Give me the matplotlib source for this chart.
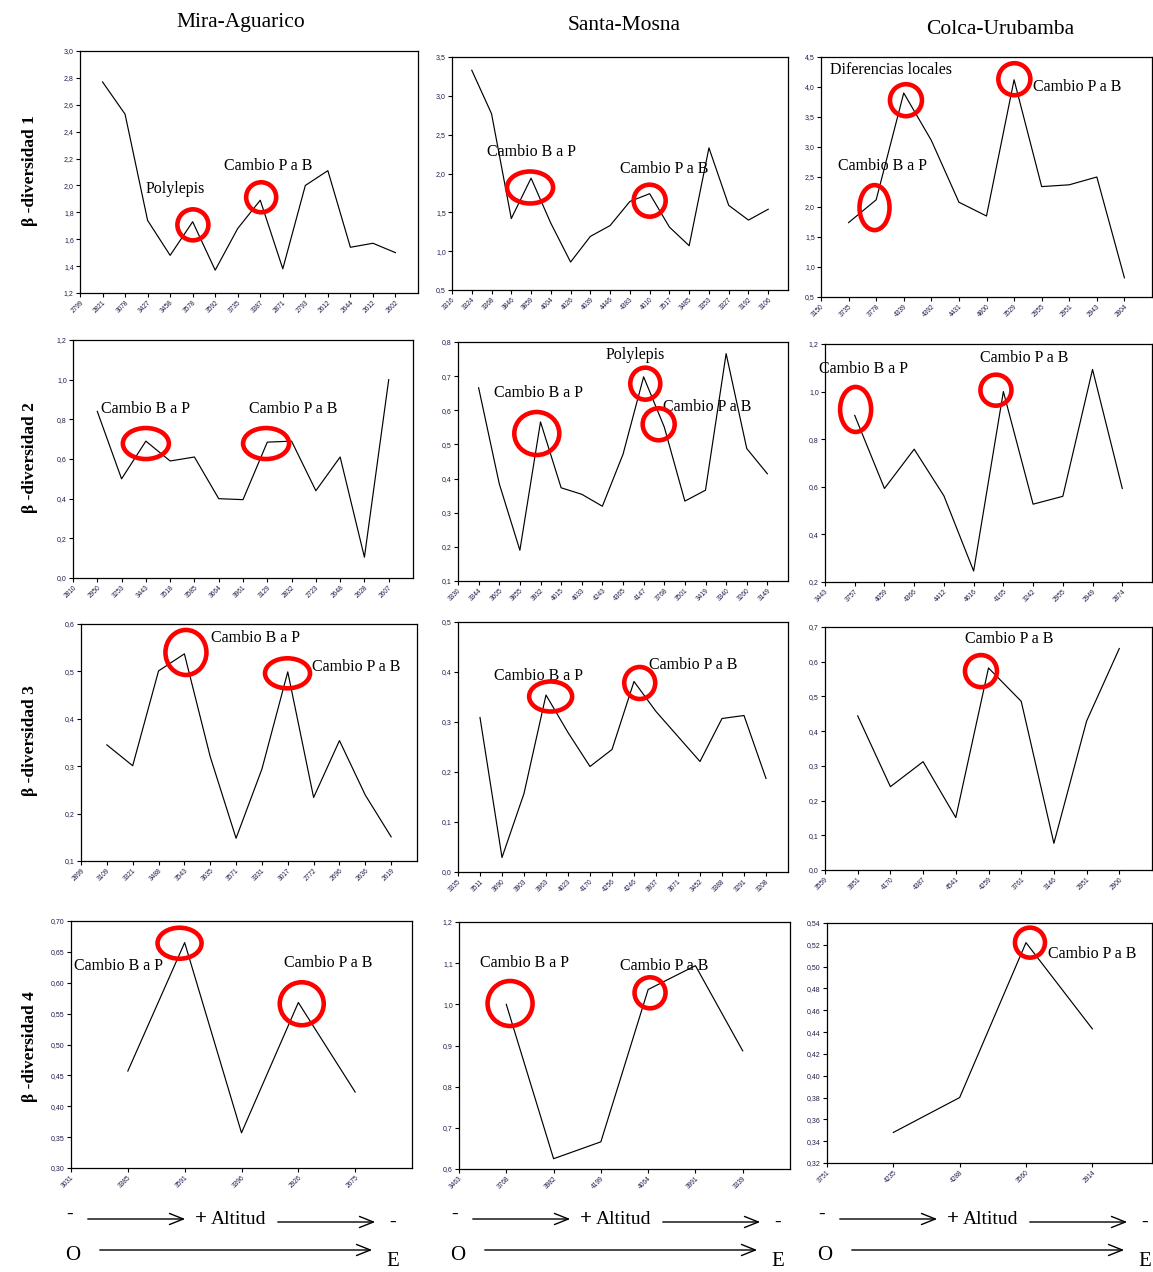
import numpy as np
import matplotlib
matplotlib.use("Agg")
import matplotlib.pyplot as plt
from matplotlib.patches import Ellipse
from matplotlib.ticker import FuncFormatter
import matplotlib.transforms as mtransforms

SERIF = "Liberation Serif"
TICK_COLOR = "#1c1c4a"

# ---- data: x labels (first label sits on the y axis, no point) and values
mira1_labels = ["2799", "2821", "3078", "3427", "3458", "3578", "3592", "3735",
                "3387", "2871", "2793", "2612", "2644", "2612", "2602"]
mira1_vals = [2.77, 2.53, 1.74, 1.48, 1.73, 1.37, 1.68, 1.89, 1.38, 2.00,
              2.11, 1.54, 1.57, 1.50]

santa1_labels = ["3316", "3324", "3368", "3846", "3859", "4004", "4026", "4039",
                 "4446", "4383", "4010", "3517", "3485", "3353", "3327", "3192",
                 "3106"]
santa1_vals = [3.33, 2.77, 1.42, 1.94, 1.36, 0.86, 1.19, 1.33, 1.64, 1.74,
               1.31, 1.07, 2.33, 1.59, 1.40, 1.54]

colca1_labels = ["3150", "3735", "3778", "4339", "4392", "4431", "4800", "3529",
                 "2955", "2951", "2943", "2804"]
colca1_vals = [1.74, 2.12, 3.90, 3.11, 2.08, 1.85, 4.12, 2.34, 2.37, 2.50, 0.82]

mira2_labels = ["2810", "2950", "3253", "3443", "3518", "3585", "3664", "3961",
                "3129", "2832", "2723", "2648", "2628", "2607"]
mira2_vals = [0.84, 0.50, 0.69, 0.59, 0.61, 0.40, 0.395, 0.685, 0.69, 0.44,
              0.61, 0.105, 1.00]

santa2_labels = ["3330", "3344", "3605", "3855", "3932", "4015", "4033", "4243",
                 "4365", "4147", "3768", "3501", "3419", "3340", "3260", "3149"]
santa2_vals = [0.666, 0.385, 0.19, 0.566, 0.373, 0.354, 0.319, 0.471, 0.698,
               0.551, 0.334, 0.366, 0.766, 0.488, 0.414]

colca2_labels = ["3443", "3757", "4059", "4366", "4412", "4616", "4165", "3242",
                 "2955", "2949", "2874"]
colca2_vals = [0.90, 0.593, 0.758, 0.562, 0.246, 1.00, 0.527, 0.56, 1.093, 0.593]

mira3_labels = ["2899", "3109", "3321", "3488", "3543", "3635", "3571", "3331",
                "3017", "2772", "2696", "2636", "2619"]
mira3_vals = [0.345, 0.301, 0.501, 0.537, 0.32, 0.148, 0.294, 0.499, 0.234,
              0.354, 0.239, 0.151]

santa3_labels = ["3335", "3511", "3690", "3903", "3963", "4023", "4170", "4256",
                 "4246", "3937", "3671", "3452", "3388", "3291", "3208"]
santa3_vals = [0.309, 0.029, 0.157, 0.354, 0.279, 0.211, 0.245, 0.381, 0.321,
               0.271, 0.221, 0.307, 0.313, 0.187]

colca3_labels = ["3559", "3951", "4170", "4387", "4541", "4259", "3761", "3146",
                 "2951", "2900"]
colca3_vals = [0.444, 0.24, 0.312, 0.151, 0.582, 0.486, 0.077, 0.429, 0.638]

mira4_labels = ["3031", "3385", "3591", "3396", "2926", "2675"]
mira4_vals = [0.457, 0.665, 0.357, 0.568, 0.423]

santa4_labels = ["3463", "3768", "3982", "4199", "4064", "3991", "3339"]
santa4_vals = [1.00, 0.625, 0.666, 1.036, 1.094, 0.887]

colca4_labels = ["3751", "4235", "4288", "3560", "2914"]
colca4_vals = [0.348, 0.38, 0.522, 0.443]

columns = ["Mira-Aguarico", "Santa-Mosna", "Colca-Urubamba"]
row_labels = ["\u03b2 -diversidad 1", "\u03b2 -diversidad 2",
              "\u03b2 -diversidad 3", "\u03b2 -diversidad 4"]

W, H = 1153, 1272
fig = plt.figure(figsize=(W / 100, H / 100), dpi=100)


def px_axes(left, top, right, bottom):
    return fig.add_axes((left / W, 1 - bottom / H, (right - left) / W,
                         (bottom - top) / H))


def panel(box, labels, vals, ylim, ystep, ndec, xmax, notes, rings):
    ax = px_axes(*box)
    x = np.arange(1, len(vals) + 1)
    ax.plot(x, vals, color="black", lw=0.85)
    ax.set_xlim(0, xmax)
    ax.set_ylim(*ylim)
    ax.set_xticks(np.arange(len(labels)))
    ax.set_xticklabels(labels, rotation=45, ha="right", rotation_mode="anchor",
                       fontsize=4.8, color=TICK_COLOR, family="Liberation Sans")
    ax.set_yticks(np.arange(ylim[0], ylim[1] + ystep / 2, ystep))
    ax.yaxis.set_major_formatter(
        FuncFormatter(lambda v, p: f"{v:.{ndec}f}".replace(".", ",")))
    for lab in ax.get_yticklabels():
        lab.set_fontsize(5)
        lab.set_color(TICK_COLOR)
        lab.set_family("Liberation Sans")
    ax.tick_params(length=3, width=0.8, pad=1.5, direction="out")
    for s in ax.spines.values():
        s.set_linewidth(0.9)
    for tx, ty, s in notes:
        ax.text(tx, ty, s, ha="left", va="center", fontsize=11.5,
                family=SERIF, clip_on=False)
    # red rings drawn in inches around a point given in data units
    for cx, cy, w, h in rings:
        tr = fig.dpi_scale_trans + mtransforms.ScaledTranslation(cx, cy, ax.transData)
        ax.add_patch(Ellipse((0, 0), w / 100, h / 100, transform=tr,
                             fill=False, ec="#ff0000", lw=3.3, clip_on=False,
                             zorder=5))
    return ax


# row 1
panel((80, 51, 418, 293), mira1_labels, mira1_vals, (1.2, 3.0), 0.2, 1, 15,
      [(2.92, 1.97, "Polylepis"), (6.38, 2.145, "Cambio P a B")],
      [(5.01, 1.707, 31, 31), (8.04, 1.912, 30, 30)])
panel((452, 57, 788, 290), santa1_labels, santa1_vals, (0.5, 3.5), 0.5, 1, 17,
      [(1.75, 2.28, "Cambio B a P"), (8.5, 2.06, "Cambio P a B")],
      [(3.95, 1.82, 46, 32), (10.0, 1.65, 32, 32)])
panel((821, 57, 1152, 297), colca1_labels, colca1_vals, (0.5, 4.5), 0.5, 1, 12,
      [(0.32, 4.28, "Diferencias locales"), (7.7, 4.0, "Cambio P a B"),
       (0.62, 2.68, "Cambio B a P")],
      [(3.08, 3.78, 32, 32), (7.01, 4.13, 32, 32), (1.94, 1.99, 30, 45)])

# row 2
panel((73, 340, 413, 578), mira2_labels, mira2_vals, (0.0, 1.2), 0.2, 1, 14,
      [(1.16, 0.85, "Cambio B a P"), (7.23, 0.85, "Cambio P a B")],
      [(3.0, 0.678, 46, 31), (7.95, 0.678, 46, 31)])
panel((458, 342, 788, 581), santa2_labels, santa2_vals, (0.1, 0.8), 0.1, 1, 16,
      [(7.15, 0.761, "Polylepis"), (1.73, 0.651, "Cambio B a P"),
       (9.92, 0.61, "Cambio P a B")],
      [(3.82, 0.532, 45, 43), (9.08, 0.678, 30, 32), (9.73, 0.559, 32, 32)])
panel((825, 344, 1152, 582), colca2_labels, colca2_vals, (0.2, 1.2), 0.2, 1, 11,
      [(-0.19, 1.093, "Cambio B a P"), (5.22, 1.14, "Cambio P a B")],
      [(1.03, 0.925, 31, 45), (5.75, 1.006, 31, 31)])

# row 3
panel((81, 624, 417, 861), mira3_labels, mira3_vals, (0.1, 0.6), 0.1, 1, 13,
      [(5.02, 0.57, "Cambio B a P"), (8.93, 0.51, "Cambio P a B")],
      [(4.06, 0.54, 41, 45), (7.99, 0.496, 45, 30)])
panel((458, 622, 788, 872), santa3_labels, santa3_vals, (0.0, 0.5), 0.1, 1, 15,
      [(1.62, 0.391, "Cambio B a P"), (8.68, 0.413, "Cambio P a B")],
      [(4.21, 0.351, 43, 30), (8.26, 0.378, 31, 32)])
panel((825, 627, 1152, 870), colca3_labels, colca3_vals, (0.0, 0.7), 0.1, 1, 10,
      [(4.29, 0.664, "Cambio P a B")],
      [(4.77, 0.573, 32, 32)])

# row 4
panel((71, 921, 412, 1168), mira4_labels, mira4_vals, (0.30, 0.70), 0.05, 2, 6,
      [(0.05, 0.627, "Cambio B a P"), (3.75, 0.632, "Cambio P a B")],
      [(1.91, 0.664, 44, 31), (4.06, 0.566, 44, 43)])
panel((459, 922, 790, 1169), santa4_labels, santa4_vals, (0.6, 1.2), 0.1, 1, 7,
      [(0.44, 1.10, "Cambio B a P"), (3.41, 1.094, "Cambio P a B")],
      [(1.08, 1.002, 45, 45), (4.04, 1.028, 31, 31)])
panel((827, 923, 1152, 1163), colca4_labels, colca4_vals, (0.32, 0.54), 0.02, 2, 4.9,
      [(3.33, 0.512, "Cambio P a B")],
      [(3.06, 0.522, 30, 30)])

# column titles and row labels
for cx, cy, name in zip([241, 624, 1000], [23, 26, 30], columns):
    fig.text(cx / W, 1 - cy / H, name, ha="center", va="center",
             fontsize=15.5, family=SERIF)
for cy, name in zip([171, 458, 741, 1047], row_labels):
    fig.text(30 / W, 1 - cy / H, name, ha="center", va="center", rotation=90,
             fontsize=12.5, family=SERIF, fontweight="bold")


# bottom arrows: altitude and west-east
def arrow(x0, x1, y):
    fig.add_artist(matplotlib.patches.FancyArrowPatch(
        (x0 / W, 1 - y / H), (x1 / W, 1 - y / H), transform=fig.transFigure,
        arrowstyle="->,head_length=10,head_width=4", color="black", lw=1.0,
        mutation_scale=1))


def ftext(x, y, s, size=14, weight="normal"):
    fig.text(x / W, 1 - y / H, s, ha="center", va="center", fontsize=size,
             family=SERIF, fontweight=weight)


for dx in [0, 385, 752]:
    ftext(70 + dx, 1214, "-")
    arrow(85 + dx, 188 + dx, 1219)
    ftext(201 + dx, 1219, "+", 15, "bold")
    ftext(239 + dx, 1220, "Altitud", 14)
    arrow(275 + dx, 378 + dx, 1222)
    ftext(393 + dx, 1222, "-")
    ftext(73 + dx, 1255, "O", 15)
    arrow(97 + dx, 375 + dx, 1250)
    ftext(393 + dx, 1262, "E", 15)

fig.savefig("out.png", dpi=100)
